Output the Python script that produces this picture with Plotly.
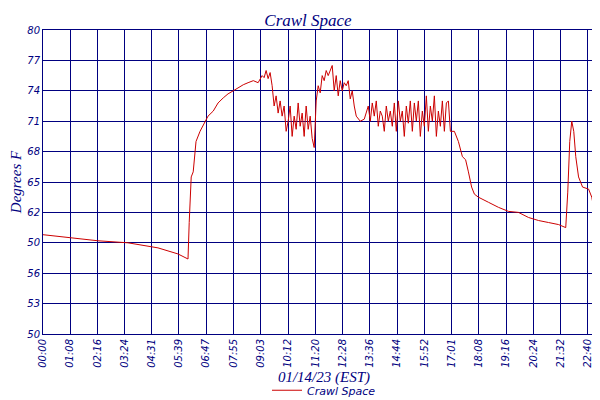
import plotly.graph_objects as go

minutes = [0,25,62,137,212,287,337,357,362,365,370,375,382,392,402,412,425,437,450,462,475,487,500,512,525,537,547,552,557,562,567,572,577,582,587,592,597,602,607,612,617,622,627,632,637,642,647,652,657,662,667,672,677,682,687,692,697,702,707,712,717,722,727,732,737,742,747,752,757,762,767,772,777,782,792,802,
           812,817,822,827,832,837,842,847,852,857,862,867,872,877,882,887,892,897,902,907,912,917,922,927,932,937,942,947,952,957,962,967,972,977,982,987,992,997,1002,1007,1012,
           1017,1027,1037,1047,1055,1062,1070,1077,1087,1112,1137,1162,1187,1212,1237,1262,1287,1305,1310,1315,1320,1325,1330,1337,1347,1362,1370,1377,1387,1397,1402]
temps = [59.8,59.7,59.5,59.2,59.0,58.5,57.9,57.5,57.4,61,65.5,66,69,70,70.8,71.5,72,72.8,73.3,73.7,74,74.3,74.6,74.8,75,74.8,75.5,75.3,76,75.2,75.8,74.5,72.5,73.5,71.8,73,71.5,72.5,70,71,72.5,69.5,71.5,70.2,72.8,70.5,71.8,69.5,72.5,70.2,71.5,69.3,68.4,73,74.5,73.8,75.5,75,76,75.5,76,76.5,74,75.5,73.5,75,74,74.8,74.5,75,73.2,74,72.5,71.5,71,71.2,
         72.5,71,72.8,71.5,73,70.5,72,71.5,70,72.5,71,72,70.5,72.8,70,73,71,72,69.5,72.5,70.8,73,70,72.8,71,73,69.5,72,70.5,73.5,70,72.5,71,73.5,69.5,72,70.5,73,70,72.8,73,
         70,70,69,67.5,67.2,66,64.5,63.8,63.5,63,62.5,62.1,62,61.5,61.2,61,60.8,60.5,64,69,71,70,67.5,65.5,64.5,64.3,63.5,62,61.6,61,60.8]

x_tick_labels = ["00:00","01:08","02:16","03:24","04:31","05:39","06:47","07:55","09:03","10:12","11:20",
                 "12:28","13:36","14:44","15:52","17:01","18:08","19:16","20:24","21:32","22:40","23:22"]
y_tick_vals = [50,53,56,59,62,65,68,71,74,77,80]
y_tick_labels = ["50","53","56","50","62","65","68","71","74","77","80"]

navy = "#000080"
xt = [int(s[:2]) * 60 + int(s[3:]) for s in x_tick_labels]

fig = go.Figure(go.Scatter(x=minutes, y=temps, mode="lines", name="Crawl Space",
                           line=dict(color="#cc0000", width=1)))
fig.update_layout(
    width=600, height=400, paper_bgcolor="white", plot_bgcolor="white",
    margin=dict(l=35, r=3, t=22, b=67),
    title=dict(text="Crawl Space", x=0.5, xanchor="center", y=0.985, yanchor="top",
               font=dict(family="Liberation Serif", size=17, color=navy, style="italic")),
    showlegend=True,
    legend=dict(orientation="h", x=0.5, xanchor="center", y=-0.185, yanchor="middle",
                font=dict(family="DejaVu Sans", size=11, color=navy, style="italic")),
)
fig.update_xaxes(range=[0, 1403], tickvals=xt, ticktext=x_tick_labels, tickangle=-90,
                 showgrid=True, gridcolor=navy, gridwidth=1, showline=True, linecolor=navy, mirror=True,
                 zeroline=False, tickfont=dict(family="DejaVu Sans", size=10, color=navy, style="italic"),
                 title=dict(text="01/14/23 (EST)", standoff=4,
                            font=dict(family="Liberation Serif", size=15, color=navy, style="italic")))
fig.update_yaxes(range=[50, 80], tickvals=y_tick_vals, ticktext=y_tick_labels,
                 showgrid=True, gridcolor=navy, gridwidth=1, showline=True, linecolor=navy, mirror=True,
                 zeroline=False, tickfont=dict(family="DejaVu Sans", size=10, color=navy, style="italic"),
                 title=dict(text="Degrees F", standoff=2,
                            font=dict(family="Liberation Serif", size=15, color=navy, style="italic")))
fig.write_html("out.html")
